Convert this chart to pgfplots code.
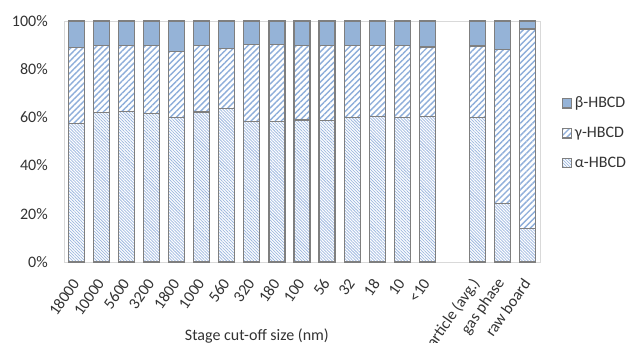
\documentclass[border=0pt]{standalone}
\usepackage{fontspec}
\setmainfont{Carlito}
\usepackage{pgfplots}
\usepackage{pgfplotstable}
\pgfplotsset{compat=1.18}
\usetikzlibrary{patterns.meta}
\definecolor{betacol}{HTML}{95B3D7}
\definecolor{gammacol}{HTML}{8EAEDA}
\definecolor{alphacol}{HTML}{9DB8E0}
\definecolor{edgecol}{HTML}{7F7F7F}
\definecolor{framecol}{HTML}{D9D9D9}
\pgfplotstableread{
x alpha gamma beta
0 57.5 31.4 11.1
1 62.0 27.9 10.1
2 62.5 27.4 10.1
3 61.7 28.2 10.1
4 60.0 27.3 12.7
5 62.2 27.7 10.1
6 63.8 24.9 11.3
7 58.2 32.1 9.7
8 58.2 32.1 9.7
9 58.9 31.0 10.1
10 58.6 31.3 10.1
11 60.0 29.9 10.1
12 60.4 29.5 10.1
13 59.9 30.0 10.1
14 60.4 28.8 10.8
16 60.0 29.6 10.4
17 24.3 63.9 11.8
18 13.8 82.9 3.3
}\datatable
\newcommand{\lblfont}{\fontsize{12pt}{14pt}\selectfont}
\begin{document}
\begin{tikzpicture}
\useasboundingbox (0,0) rectangle (472.5pt,256.5pt);
\clip (0,0) rectangle (472.5pt,256.5pt);
\begin{axis}[
  at={(48pt,60pt)}, anchor=south west,
  scale only axis,
  width=357pt, height=180.75pt,
  ybar stacked,
  bar width=12pt,
  xmin=-0.5, xmax=18.5,
  ymin=0, ymax=100,
  ytick={0,20,40,60,80,100},
  yticklabel={\pgfmathprintnumber{\tick}\%},
  xtick={0,1,2,3,4,5,6,7,8,9,10,11,12,13,14,16,17,18},
  xticklabels={18000,10000,5600,3200,1800,1000,560,320,180,100,56,32,18,10,<10,particle (avg.),gas phase,raw board},
  xticklabel shift=13pt,
  yticklabel shift=11pt,
  x tick label style={rotate=55, anchor=east, inner sep=1pt, font=\lblfont, color=black!80},
  y tick label style={font=\lblfont, color=black!80, inner sep=1pt},
  /pgf/number format/assume math mode=true,
  major tick length=0pt,
  axis line style={draw=framecol},
  clip=false,
  reverse legend,
  legend style={draw=none, fill=none, at={(1.045,0.535)}, anchor=west,
    font=\lblfont, text=black!80, row sep=9pt, inner sep=0pt},
  legend cell align=left,
  legend image code/.code={\draw[#1] (0pt,-3.5pt) rectangle (7pt,3.5pt);},
]
\addplot[draw=edgecol, line width=0.9pt, fill=white,
  postaction={pattern={Lines[angle=-45,distance=1.6pt,line width=0.55pt]}, pattern color=alphacol}]
  table[x=x,y=alpha]{\datatable};
\addlegendentry{α-HBCD}
\addplot[draw=edgecol, line width=0.9pt, fill=white,
  postaction={pattern={Lines[angle=45,distance=3.2pt,line width=1.05pt]}, pattern color=gammacol}]
  table[x=x,y=gamma]{\datatable};
\addlegendentry{γ-HBCD}
\addplot[draw=edgecol, line width=0.9pt, fill=betacol]
  table[x=x,y=beta]{\datatable};
\addlegendentry{β-HBCD}
\node[font=\lblfont, color=black!80, anchor=base] at (axis cs:7.2,0) [yshift=-59pt] {Stage cut-off size (nm)};
\end{axis}
\end{tikzpicture}
\end{document}
